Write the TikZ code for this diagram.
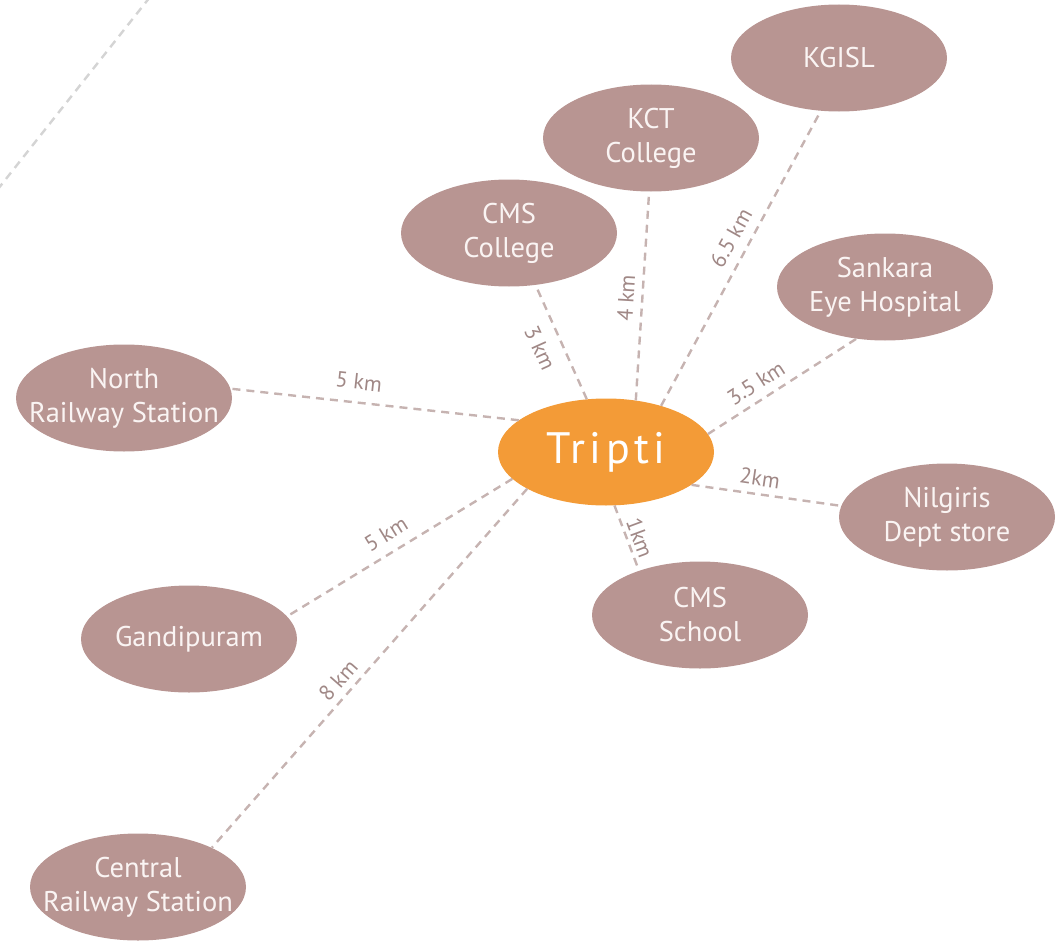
\documentclass[tikz,border=0pt]{standalone}
\usepackage{fontspec}
\setmainfont{PT Sans}
\usetikzlibrary{shapes.geometric}
\definecolor{mauve}{HTML}{B89592}
\definecolor{orng}{HTML}{F39B37}
\definecolor{lbl}{HTML}{A08886}
\definecolor{dsh}{HTML}{C6B3B1}
\definecolor{lgray}{HTML}{D4D4D4}
\definecolor{ptxt}{HTML}{FAF4F3}
\tikzset{
  place/.style={ellipse, fill=mauve, minimum width=216pt, minimum height=107pt,
    inner xsep=-60pt, inner ysep=0pt,
    text=ptxt, align=center, font=\fontsize{28.5}{34}\selectfont},
  hub/.style={ellipse, fill=orng, minimum width=216pt, minimum height=107pt, inner sep=0pt,
    text=white, font=\fontsize{44}{44}\selectfont\addfontfeature{LetterSpace=10}},
  link/.style={draw=dsh, line width=2.4pt, dash pattern=on 8pt off 6pt},
  dist/.style={text=lbl, font=\fontsize{22}{22}\selectfont, inner sep=0pt}
}
\begin{document}
\begin{tikzpicture}[x=1pt,y=-1pt]
\useasboundingbox (0,0) rectangle (1063,942);
\begin{scope}
\clip (0,0) rectangle (1063,942);
\coordinate (g1) at (150,-3);
\coordinate (g2) at (-2,189);
\draw[draw=lgray, line width=2.4pt, dash pattern=on 8pt off 6pt] (g1) -- (g2);
\end{scope}

\node[hub] (tripti) at (606,452) {Tripti};
\node[place] (kgisl) at (839,58) {KGISL};
\node[place] (kct) at (651,138) {KCT\\College};
\node[place] (cmsc) at (509,233) {CMS\\College};
\node[place] (sank) at (885,287) {Sankara\\Eye Hospital};
\node[place] (north) at (124,398) {North\\Railway Station};
\node[place] (nilg) at (947,517) {Nilgiris\\Dept store};
\node[place] (cmss) at (700,615) {CMS\\School};
\node[place] (gandi) at (189,639) {Gandipuram};
\node[place] (central) at (138,887) {Central\\Railway Station};

\draw[link] (tripti.110.4) -- (cmsc.297.4);
\draw[link] (tripti.60.1) -- (kct.268);
\draw[link] (tripti.40.9) -- (kgisl.251.6);
\draw[link] (tripti.10) -- (sank.241.3);
\draw[link] (tripti.-21.6) -- (nilg.174.5);
\draw[link] (tripti.-81.9) -- (cmss.144.6);
\draw[link] (tripti.160.6) -- (north.5.7);
\draw[link] (tripti.196.3) -- (gandi.13.6);
\draw[link] (tripti.205.1) -- (central.28.4);

\node[dist, rotate=-65.7] (l1) at (540,348) {3 km};
\node[dist, rotate=86.5] (l2) at (626,298) {4 km};
\node[dist, rotate=60.8] (l3) at (731,238) {6.5 km};
\node[dist, rotate=32.7] (l4) at (756,383) {3.5 km};
\node[dist, rotate=-8.4] (l5) at (760,478) {2km};
\node[dist, rotate=-69.7] (l6) at (640,538) {1km};
\node[dist, rotate=-6.3] (l7) at (359,382) {5 km};
\node[dist, rotate=31.7] (l8) at (386,534) {5 km};
\node[dist, rotate=48.7] (l9) at (338,680) {8 km};
\end{tikzpicture}
\end{document}
